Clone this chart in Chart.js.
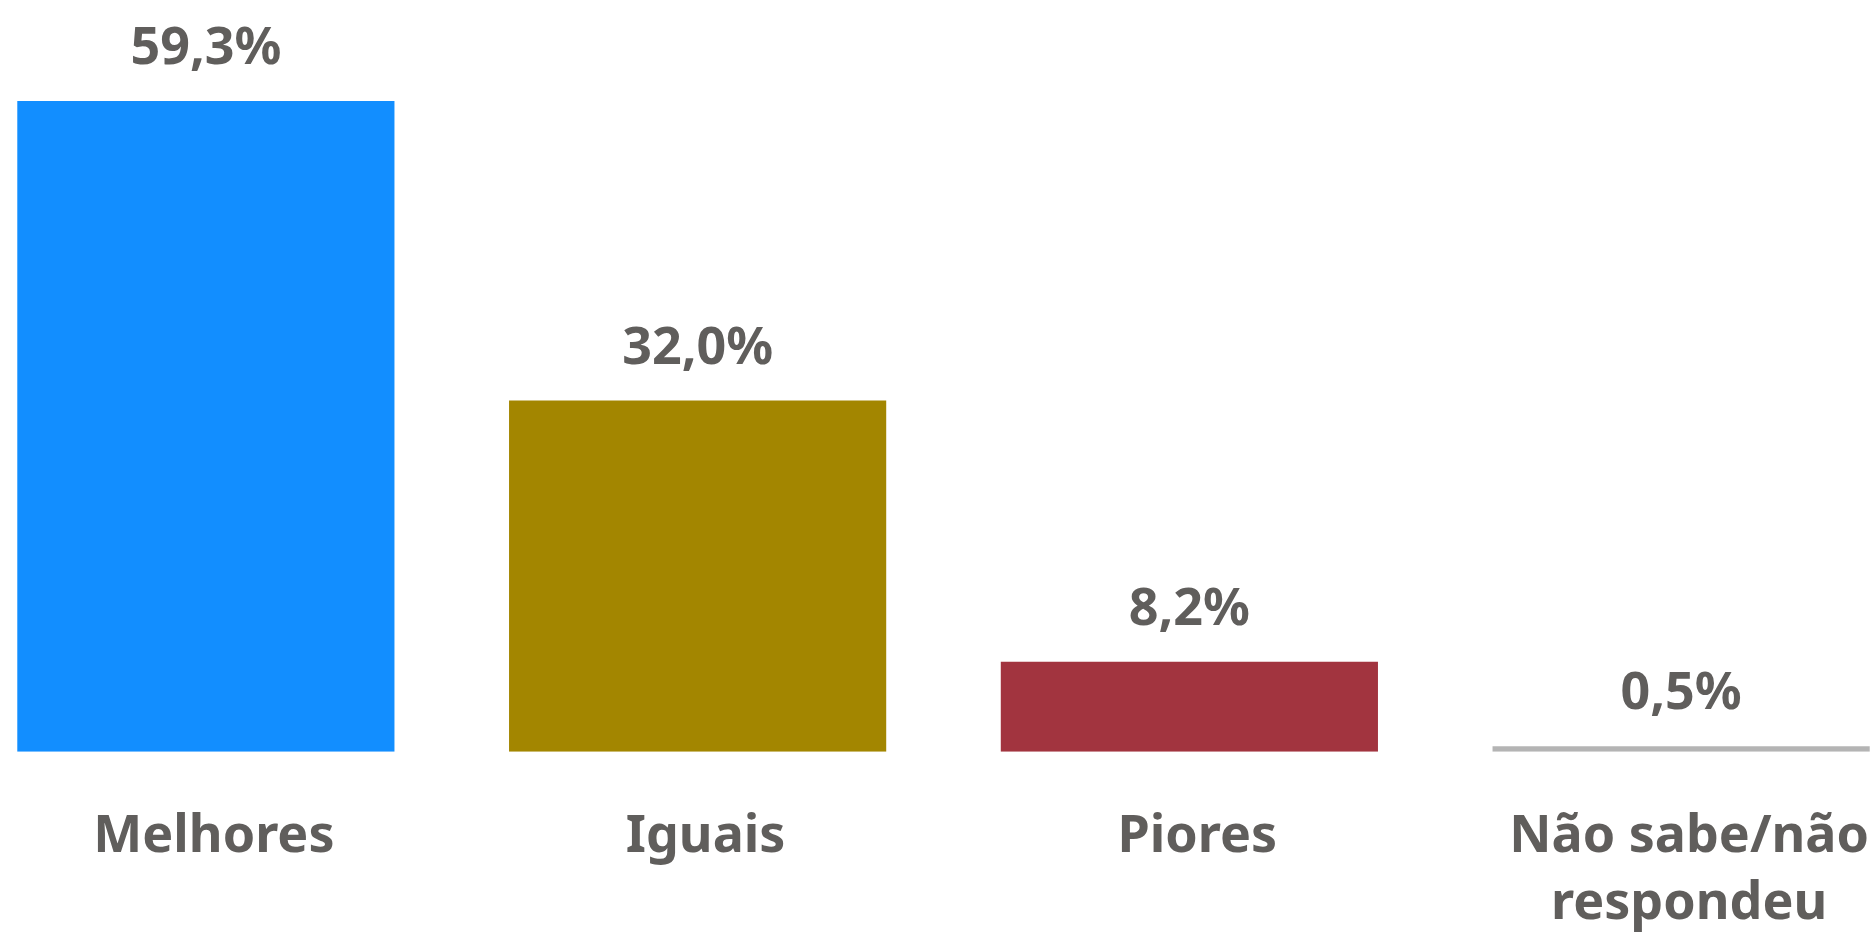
<!DOCTYPE html>
<html lang="pt">
<head>
<meta charset="utf-8">
<title>Avaliação</title>
<script src="https://cdn.jsdelivr.net/npm/chart.js"></script>
<style>
  html, body { margin:0; padding:0; background:#fff; overflow:hidden; }
  body { width:1870px; height:934px; position:relative; }
  /* canvas runs a bit past the viewport on the left and bottom so the plot area lines up */
  #wrap { position:absolute; left:-40px; top:0; width:1967px; height:990px; }
</style>
</head>
<body>
<div id="wrap"><canvas id="chart"></canvas></div>
<script>
// data
const categories = ['Melhores', 'Iguais', 'Piores', ['Não sabe/não', 'respondeu']];
const values = [59.3, 32.0, 8.2, 0.5];
const barColors = ['#128EFF', '#A38600', '#A2343F', '#B4B4B4'];

const textColor = '#605E5C';
const fontFamily = '"Noto Sans", "Open Sans", sans-serif';

// value labels above each bar, pt-BR decimal comma
const valueLabels = {
  id: 'valueLabels',
  afterDatasetsDraw(chart){
    const ctx = chart.ctx;
    const meta = chart.getDatasetMeta(0);
    ctx.save();
    ctx.font = `bold 52px ${fontFamily}`;
    ctx.fillStyle = textColor;
    ctx.textAlign = 'center';
    ctx.textBaseline = 'alphabetic';
    meta.data.forEach((bar, i)=>{
      const txt = values[i].toFixed(1).replace('.', ',') + '%';
      ctx.fillText(txt, bar.x, bar.y - 37);
    });
    ctx.restore();
  }
};

new Chart(document.getElementById('chart'), {
  type: 'bar',
  data: {
    labels: categories,
    datasets: [{ data: values, backgroundColor: barColors, borderWidth: 0,
      categoryPercentage: 1, barPercentage: 0.767 }]
  },
  options: {
    responsive: true,
    maintainAspectRatio: false,
    animation: false,
    layout: { padding: 0 },
    plugins: { legend: { display: false }, tooltip: { enabled: false } },
    scales: {
      x: {
        grid: { display: false, drawTicks: false },
        border: { display: false },
        ticks: { color: textColor, padding: 52, labelOffset: 8, maxRotation: 0,
          font: { family: fontFamily, size: 52, weight: 'bold', lineHeight: 1.29 } }
      },
      y: { display: false, min: 0, max: 68.5 }
    }
  },
  plugins: [valueLabels]
});
</script>
</body>
</html>
